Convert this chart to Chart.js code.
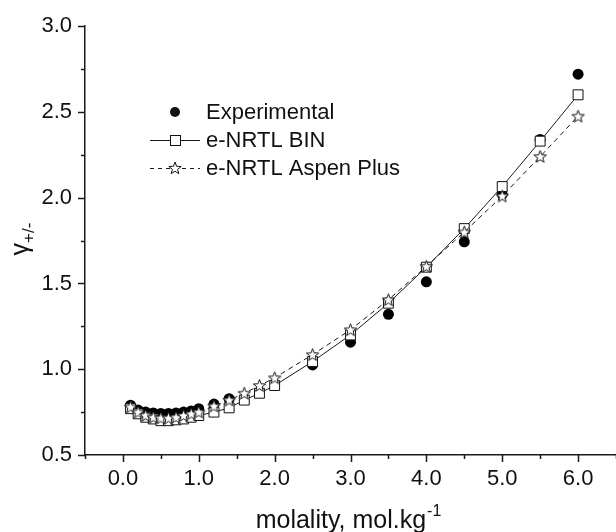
<!DOCTYPE html>
<html>
<head>
<meta charset="utf-8">
<script src="https://cdn.jsdelivr.net/npm/chart.js@4"></script>
<style>
  body { margin: 0; background: #fff; }
  #wrap { width: 616px; height: 532px; }
</style>
</head>
<body>
<div id="wrap"><canvas id="myChart" width="616" height="532"></canvas></div>
<script>
// valori
var expMolality = [0.1, 0.2, 0.3, 0.4, 0.5, 0.6, 0.7, 0.8, 0.9, 1.0, 1.2, 1.4, 2.5, 3.0, 3.5, 4.0, 4.5, 5.0, 5.5, 6.0];
var expGamma = [0.79, 0.762, 0.75, 0.745, 0.742, 0.742, 0.745, 0.75, 0.757, 0.77, 0.797, 0.828, 1.025, 1.158, 1.32, 1.51, 1.743, 2.02, 2.34, 2.72];

var modelMolality = [0.1, 0.2, 0.3, 0.4, 0.5, 0.6, 0.7, 0.8, 0.9, 1.0, 1.2, 1.4, 1.6, 1.8, 2.0, 2.5, 3.0, 3.5, 4.0, 4.5, 5.0, 5.5, 6.0];
var binGamma = [0.77, 0.74, 0.72, 0.71, 0.70, 0.70, 0.705, 0.71, 0.72, 0.73, 0.75, 0.775, 0.82, 0.86, 0.905, 1.045, 1.20, 1.385, 1.595, 1.82, 2.065, 2.33, 2.60];
var aspenGamma = [0.78, 0.75, 0.73, 0.72, 0.715, 0.715, 0.72, 0.73, 0.74, 0.75, 0.785, 0.82, 0.86, 0.905, 0.95, 1.085, 1.23, 1.405, 1.60, 1.80, 2.01, 2.24, 2.475];

var xTicks = [0, 1, 2, 3, 4, 5, 6];
var xMinorTicks = [-0.5, 0.5, 1.5, 2.5, 3.5, 4.5, 5.5, 6.5];
var yTicks = [0.5, 1.0, 1.5, 2.0, 2.5, 3.0];
var yMinorTicks = [0.75, 1.25, 1.75, 2.25, 2.75];

var FONT = "'Liberation Sans', Arial, sans-serif";
var INK = '#1a1a1a';

function toXY(xs, ys) {
  return xs.map(function (x, i) { return { x: x, y: ys[i] }; });
}

// stella a cinque punte (Chart.js non la ha)
function makeStar(r) {
  var s = Math.ceil(r * 2 + 4);
  var c = document.createElement('canvas');
  c.width = s; c.height = s;
  var g = c.getContext('2d');
  drawStar(g, s / 2, s / 2 + 0.5, r);
  return c;
}
function drawStar(g, cx, cy, r) {
  g.beginPath();
  for (var i = 0; i < 10; i++) {
    var a = -Math.PI / 2 + i * Math.PI / 5;
    var rr = i % 2 ? r * 0.42 : r;
    var px = cx + rr * Math.cos(a), py = cy + rr * Math.sin(a);
    if (i === 0) g.moveTo(px, py); else g.lineTo(px, py);
  }
  g.closePath();
  g.fillStyle = '#fff';
  g.fill();
  g.lineWidth = 1;
  g.strokeStyle = '#111';
  g.stroke();
}
var starImg = makeStar(6.5);

// tacche, titoli degli assi e legenda
var decorPlugin = {
  id: 'decor',
  afterDraw: function (chart) {
    var ctx = chart.ctx;
    var xs = chart.scales.x, ys = chart.scales.y;
    var bottom = chart.chartArea.bottom, left = chart.chartArea.left;
    ctx.save();
    ctx.strokeStyle = INK;
    ctx.lineWidth = 1.5;
    ctx.beginPath();
    xTicks.forEach(function (v) {
      var p = Math.round(xs.getPixelForValue(v)) + 0.5;
      ctx.moveTo(p, bottom); ctx.lineTo(p, bottom + 7);
    });
    xMinorTicks.forEach(function (v) {
      var p = Math.round(xs.getPixelForValue(v)) + 0.5;
      ctx.moveTo(p, bottom); ctx.lineTo(p, bottom + 4);
    });
    yTicks.forEach(function (v) {
      var p = Math.round(ys.getPixelForValue(v)) + 0.5;
      ctx.moveTo(left, p); ctx.lineTo(left - 7, p);
    });
    yMinorTicks.forEach(function (v) {
      var p = Math.round(ys.getPixelForValue(v)) + 0.5;
      ctx.moveTo(left, p); ctx.lineTo(left - 4, p);
    });
    ctx.stroke();

    // titolo asse x
    ctx.fillStyle = '#111';
    ctx.textBaseline = 'alphabetic';
    var main = 'molality, mol.kg';
    ctx.font = '16px ' + FONT;
    var supW = ctx.measureText('-1').width;
    ctx.font = '25px ' + FONT;
    var mainW = ctx.measureText(main).width;
    var cx = 348;
    var x0 = cx - (mainW + supW) / 2;
    ctx.textAlign = 'left';
    ctx.fillText(main, x0, 528);
    ctx.font = '16px ' + FONT;
    ctx.fillText('-1', x0 + mainW + 1, 516);

    // titolo asse y
    ctx.save();
    ctx.translate(28, 239);
    ctx.rotate(-Math.PI / 2);
    ctx.font = '25px ' + FONT;
    var gW = ctx.measureText('\u03b3').width;
    ctx.font = '17px ' + FONT;
    var sW = ctx.measureText('+/-').width;
    var gx = -(gW + sW) / 2;
    ctx.font = '25px ' + FONT;
    ctx.fillText('\u03b3', gx, 0);
    ctx.font = '17px ' + FONT;
    ctx.fillText('+/-', gx + gW, 6);
    ctx.restore();

    // legenda
    ctx.font = '22px ' + FONT;
    ctx.textBaseline = 'middle';
    ctx.fillStyle = '#111';
    var lx = 175, tx = 206;
    ctx.beginPath();
    ctx.arc(lx, 112, 5, 0, Math.PI * 2);
    ctx.fill();
    ctx.fillText('Experimental', tx, 113);

    ctx.lineWidth = 1;
    ctx.strokeStyle = INK;
    ctx.beginPath();
    ctx.moveTo(150, 140.5); ctx.lineTo(200, 140.5);
    ctx.stroke();
    ctx.fillStyle = '#fff';
    ctx.strokeStyle = '#111';
    ctx.fillRect(170, 135.5, 10, 10);
    ctx.strokeRect(170.5, 135.5, 10, 10);
    ctx.fillStyle = '#111';
    ctx.fillText('e-NRTL BIN', tx, 141);

    ctx.strokeStyle = INK;
    ctx.setLineDash([4, 4]);
    ctx.beginPath();
    ctx.moveTo(150, 168.5); ctx.lineTo(200, 168.5);
    ctx.stroke();
    ctx.setLineDash([]);
    drawStar(ctx, lx, 168.5, 6.5);
    ctx.fillStyle = '#111';
    ctx.fillText('e-NRTL Aspen Plus', tx, 169);
    ctx.restore();
  }
};

var data = {
  datasets: [
    {
      label: 'e-NRTL Aspen Plus',
      data: toXY(modelMolality, aspenGamma),
      borderColor: INK,
      borderWidth: 1,
      borderDash: [5, 4],
      pointStyle: starImg,
      order: 1
    },
    {
      label: 'e-NRTL BIN',
      data: toXY(modelMolality, binGamma),
      borderColor: INK,
      borderWidth: 1,
      pointStyle: 'rect',
      pointRadius: 7,
      pointBackgroundColor: '#fff',
      pointBorderColor: '#111',
      pointBorderWidth: 1,
      order: 2
    },
    {
      label: 'Experimental',
      data: toXY(expMolality, expGamma),
      showLine: false,
      pointStyle: 'circle',
      pointRadius: 5.5,
      pointBackgroundColor: '#000',
      pointBorderColor: '#000',
      pointBorderWidth: 0,
      order: 3
    }
  ]
};

var ctx = document.getElementById('myChart').getContext('2d');
var myChart = new Chart(ctx, {
  type: 'line',
  data: data,
  plugins: [decorPlugin],
  options: {
    responsive: false,
    animation: false,
    layout: { autoPadding: false, padding: { top: 24, right: 0, left: 0, bottom: 0 } },
    plugins: { legend: { display: false }, tooltip: { enabled: false } },
    scales: {
      x: {
        type: 'linear',
        min: -0.5,
        max: 6.5,
        afterBuildTicks: function (s) { s.ticks = xTicks.map(function (v) { return { value: v }; }); },
        afterFit: function (s) { s.height = 77; s.paddingLeft = 0; s.paddingRight = 0; },
        grid: { drawOnChartArea: false, drawTicks: false },
        border: { color: INK, width: 1.5 },
        ticks: {
          padding: 11,
          color: '#111',
          font: { family: FONT, size: 22 },
          maxRotation: 0,
          callback: function (v) { return Number(v).toFixed(1); }
        }
      },
      y: {
        type: 'linear',
        min: 0.5,
        max: 3.0,
        afterBuildTicks: function (s) { s.ticks = yTicks.map(function (v) { return { value: v }; }); },
        afterFit: function (s) { s.width = 85; },
        grid: { drawOnChartArea: false, drawTicks: false },
        border: { color: INK, width: 1.5 },
        ticks: {
          padding: 13,
          color: '#111',
          font: { family: FONT, size: 22 },
          callback: function (v) { return Number(v).toFixed(1); }
        }
      }
    }
  }
});
</script>
</body>
</html>
